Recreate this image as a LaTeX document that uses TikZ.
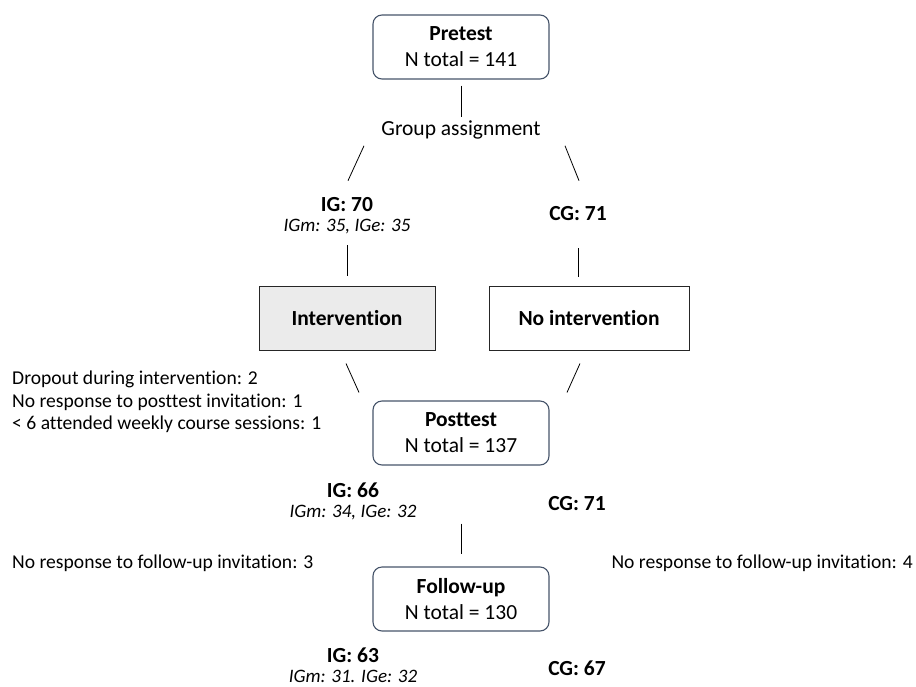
\documentclass[tikz,border=0pt]{standalone}
\usepackage{fontspec}
\setmainfont{Carlito}[Ligatures=NoCommon]
\usetikzlibrary{positioning, calc}
\definecolor{boxline}{HTML}{46546A}
\definecolor{ivfill}{HTML}{EBEBEB}

\begin{document}
\begin{tikzpicture}[
    x=1pt, y=-1pt,
    every node/.style={font=\fontsize{21.5}{26}\selectfont},
    stage/.style={draw=boxline, line width=1.1pt, rounded corners=9pt, minimum width=176pt, minimum height=64pt, align=center},
    arm/.style={draw=black!85, line width=1pt, minimum width=176pt, minimum height=64pt, font=\fontsize{21.5}{26}\selectfont\bfseries},
    count/.style={font=\fontsize{21.5}{24}\selectfont\bfseries, inner sep=1pt},
    split/.style={font=\fontsize{19}{22}\selectfont\itshape, inner sep=1pt},
    note/.style={align=left, anchor=west, inner sep=0pt, font=\fontsize{19.6}{22.5}\selectfont},
    link/.style={line width=0.8pt},
]
\useasboundingbox (0,0) rectangle (916,686);

% ── Pretest and assignment ──
\node[stage] (pretest) at (461,47) {\textbf{Pretest}\\N total = 141};
\node (assign) at (461,130) {Group assignment};

% ── Groups at pretest ──
\node[count] (ig1) at (347,205) {IG: 70};
\node[split, below=5pt of ig1] (ig1split) {IGm: 35, IGe: 35};
\node[count] (cg1) at (578,214) {CG: 71};

% ── Arms ──
\node[arm, fill=ivfill] (interv) at (347,318) {Intervention};
\node[arm, minimum width=200pt] (nointerv) at (589,318) {No intervention};

% ── Posttest ──
\node[note] (dropout) at (12,402) {Dropout during intervention: 2\\No response to posttest invitation: 1\\< 6 attended weekly course sessions: 1};
\node[stage] (posttest) at (461,433) {\textbf{Posttest}\\N total = 137};
\node[count] (ig2) at (353,490) {IG: 66};
\node[split, below=5pt of ig2] (ig2split) {IGm: 34, IGe: 32};
\node[count] (cg2) at (577,504) {CG: 71};

% ── Follow-up ──
\node[note] (lossig) at (12,563) {No response to follow-up invitation: 3};
\node[note, anchor=east] (losscg) at (913,563) {No response to follow-up invitation: 4};
\node[stage] (followup) at (461,599) {\textbf{Follow-up}\\N total = 130};
\node[count] (ig3) at (353,655) {IG: 63};
\node[split, below=5pt of ig3] (ig3split) {IGm: 31. IGe: 32};
\node[count] (cg3) at (577,668) {CG: 67};

% ── Connectors ──
\draw[link, shorten <=6pt, shorten >=0pt] (pretest) -- (assign);
\draw[link] ($(assign.south)+(-97,3)$) -- ($(ig1.north)+(1,-16)$);
\draw[link] ($(assign.south)+(104,3)$) -- ($(cg1.north)+(1,-25)$);

\draw[link, shorten <=10pt, shorten >=10pt] (ig1split.south) -- (interv.north);
\draw[link, shorten <=26pt, shorten >=9pt] (cg1.south) -- (cg1.south |- nointerv.north);

\draw[link] ($(interv.south)+(-1,13)$) -- ($(posttest.north)+(-102,-8)$);
\draw[link] ($(nointerv.south)+(-9,13)$) -- ($(posttest.north)+(106,-8)$);

\draw[link, shorten <=58pt, shorten >=12pt] (posttest.south) -- (followup.north);

\end{tikzpicture}
\end{document}
